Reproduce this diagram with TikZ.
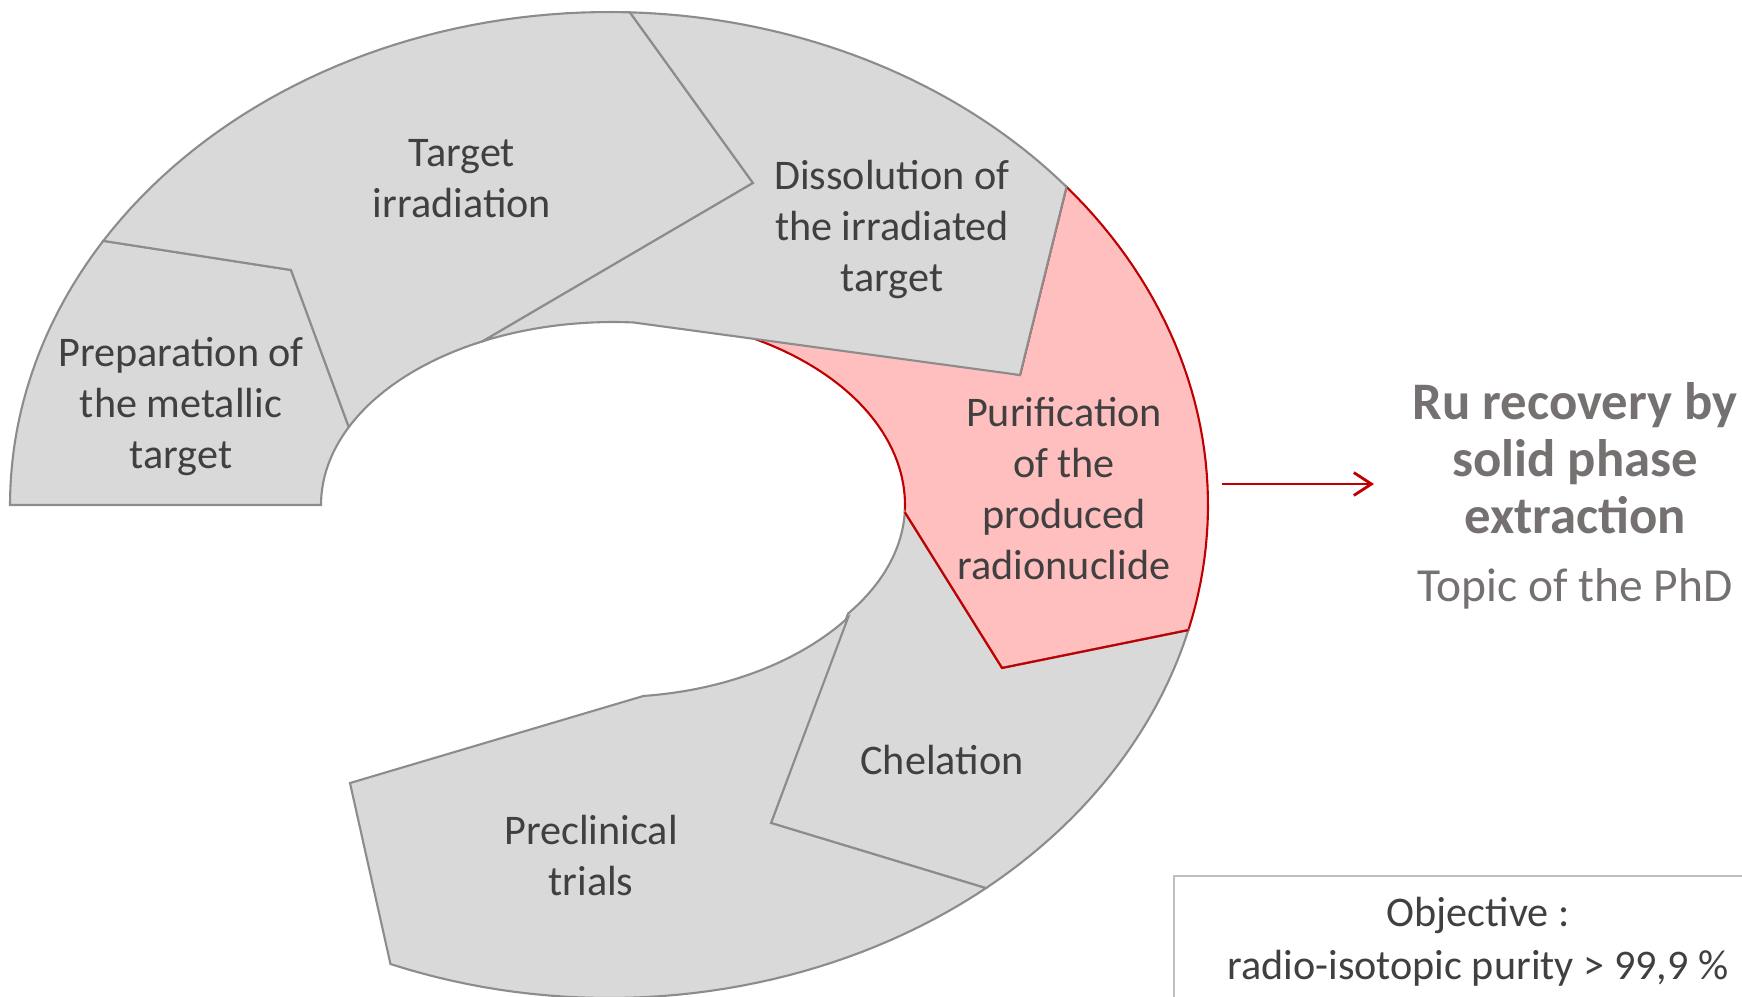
\documentclass[tikz,border=0pt]{standalone}
\usepackage{fontspec}
\setmainfont{Carlito}
\usetikzlibrary{arrows.meta}
\definecolor{segfill}{HTML}{D9D9D9}
\definecolor{segline}{HTML}{8C8C8C}
\definecolor{pinkfill}{HTML}{FFBFBF}
\definecolor{redline}{HTML}{C00000}
\definecolor{txt}{HTML}{404040}
\definecolor{titlegray}{HTML}{767171}
\definecolor{boxline}{HTML}{BFBFBF}
\begin{document}
\begin{tikzpicture}[x=0.01cm,y=-0.01cm,
  seg/.style={fill=segfill,draw=segline,line width=0.6pt,line join=miter},
  hot/.style={fill=pinkfill,draw=redline,line width=0.6pt,line join=miter},
  lbl/.style={text=txt,align=center,font=\fontsize{12}{14.5}\selectfont,inner sep=0pt},
  ttl/.style={text=titlegray,align=center,font=\fontsize{15}{16.2}\selectfont\bfseries,inner sep=0pt},
  sub/.style={text=titlegray,align=center,font=\fontsize{13.5}{16}\selectfont,inner sep=0pt},
  objtxt/.style={text=txt,align=center,font=\fontsize{12}{15.1}\selectfont,inner sep=0pt},
  redarrow/.style={draw=redline,line width=0.8pt,-{Straight Barb[length=5pt,width=6.5pt]}},
]
\useasboundingbox (0,0) rectangle (1742,996);
\clip (0,0) rectangle (1742,996);

% Purification (drawn first, partly covered by Dissolution)
\draw[hot] plot[domain=40.2:-14.7,samples=40,variable=\t] ({609+599*cos(\t)},{505-493*sin(\t)})
  -- (1002,668)
  -- plot[domain=-2.2:66,samples=40,variable=\t] ({613+292*cos(\t)},{505-190*sin(\t)})
  -- (740,320) -- (1020,375) -- cycle;

% Chelation
\draw[seg] plot[domain=-14.7:-51,samples=40,variable=\t] ({609+599*cos(\t)},{505-493*sin(\t)})
  -- (771,823)
  -- plot[domain=-36.4:-2.2,samples=40,variable=\t] ({613+292*cos(\t)},{505-183*sin(\t)})
  -- (1002,668) -- cycle;

% Preclinical trials
\draw[seg] plot[domain=-51:-111.4,samples=40,variable=\t] ({609+599*cos(\t)},{505-493*sin(\t)})
  -- (350,783)
  -- plot[domain=-84:-36.4,samples=40,variable=\t] ({613+292*cos(\t)},{502-195*sin(\t)})
  -- (771,823) -- cycle;

% red edges of Purification over Chelation
\draw[redline,line width=0.6pt,line join=miter] ({609+599*cos(-14.7)},{505-493*sin(-14.7)}) -- (1002,668) -- ({613+292*cos(-2.2)},{505-190*sin(-2.2)});

% Preparation
\draw[seg] plot[domain=180:147.6,samples=30,variable=\t] ({609+599*cos(\t)},{505-493*sin(\t)})
  -- (291,270)
  -- plot[domain=154.8:180,samples=20,variable=\t] ({613+292*cos(\t)},{505-183*sin(\t)})
  -- cycle;

% Target irradiation
\draw[seg] plot[domain=147.6:88,samples=40,variable=\t] ({609+599*cos(\t)},{505-493*sin(\t)})
  -- (753,183)
  -- plot[domain=116.5:154.8,samples=30,variable=\t] ({613+292*cos(\t)},{505-183*sin(\t)})
  -- (291,270) -- cycle;

% Dissolution
\draw[seg] plot[domain=88:40.2,samples=40,variable=\t] ({609+599*cos(\t)},{505-493*sin(\t)})
  -- (1020,375)
  -- plot[domain=86:116.5,samples=20,variable=\t] ({613+292*cos(\t)},{505-183*sin(\t)})
  -- (753,183) -- cycle;

% labels
\node[lbl] (prep) at (181,407) {Preparation of\\the metallic\\target};
\node[lbl] (targ) at (462,179) {Target\\irradiation};
\node[lbl] (diss) at (892,229) {Dissolution of\\the irradiated\\target};
\node[lbl] (puri) at (1064,489) {Purification\\of the\\produced\\radionuclide};
\node[lbl] (chel) at (942,760) {Chelation};
\node[lbl] (prec) at (591,855) {Preclinical\\trials};

% arrow and title
\coordinate (arrS) at (1222,484);
\coordinate (arrE) at (1374,484);
\draw[redarrow] (arrS) -- (arrE);
\node[ttl] (title) at (1575,458) {Ru recovery by\\solid phase\\extraction};
\node[sub] (topic) at (1575,589) {Topic of the PhD};

% objective box
\draw[boxline,line width=0.8pt] (1174,876) rectangle (1800,1060);
\node[objtxt] (obj) at (1478,942) {Objective :\\radio-isotopic purity > 99,9 \%};
\end{tikzpicture}
\end{document}
